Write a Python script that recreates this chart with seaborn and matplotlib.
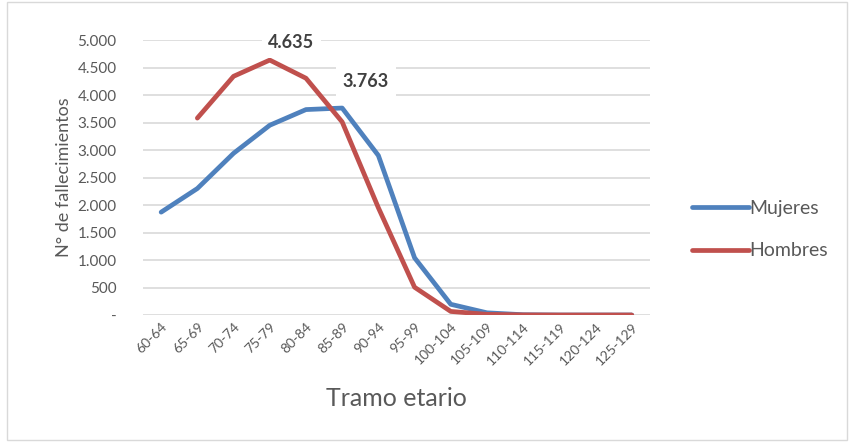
import numpy as np
import pandas as pd
import matplotlib
matplotlib.use("Agg")
import matplotlib.pyplot as plt
from matplotlib.ticker import FuncFormatter
from matplotlib.lines import Line2D
import seaborn as sns

# ─── Data ─────────────────────────────────────────────────────────────────────
tramos = ["60-64", "65-69", "70-74", "75-79", "80-84", "85-89", "90-94",
          "95-99", "100-104", "105-109", "110-114", "115-119", "120-124", "125-129"]
mujeres = [1870, 2300, 2940, 3450, 3735, 3763, 2900, 1040, 195, 40, 5, 0, 0, 0]
hombres = [np.nan, 3580, 4340, 4635, 4305, 3510, 1950, 505, 65, 12, 2, 0, 0, 0]

df = pd.concat([
    pd.DataFrame({"tramo": tramos, "valor": mujeres, "sexo": "Mujeres"}),
    pd.DataFrame({"tramo": tramos, "valor": hombres, "sexo": "Hombres"}),
]).dropna()

colors = {"Mujeres": "#4F81BD", "Hombres": "#C0504D"}

sns.set_style("white")
plt.rcParams["font.family"] = ["Lato", "DejaVu Sans"]

fig = plt.figure(figsize=(8.54, 4.42), dpi=100)
ax = fig.add_axes([0.1675, 0.2873, 0.5935, 0.6222])

sns.lineplot(data=df, x="tramo", y="valor", hue="sexo", palette=colors,
             linewidth=3.4, sort=False, ax=ax, legend=False,
             solid_capstyle="round", solid_joinstyle="round")

ax.set_xlim(-0.5, len(tramos) - 0.5)
ax.set_ylim(0, 5000)
ax.set_yticks(range(0, 5001, 500))
ax.yaxis.set_major_formatter(FuncFormatter(
    lambda v, p: "-" if v == 0 else f"{int(v):,}".replace(",", ".")))
ax.grid(axis="y", color="#D9D9D9", linewidth=1.2, zorder=0)
ax.set_axisbelow(True)
for s in ax.spines.values():
    s.set_visible(False)
ax.tick_params(axis="both", length=0, colors="#595959")
ax.tick_params(axis="y", pad=19, labelsize=11)
ax.tick_params(axis="x", pad=4)
plt.setp(ax.get_xticklabels(), rotation=45, ha="right", rotation_mode="anchor",
         fontsize=10)

ax.set_xlabel("Tramo etario", fontsize=18, color="#595959", labelpad=14)
ax.set_ylabel("N° de fallecimientos", fontsize=13, color="#595959", labelpad=4)

# peak labels (label position: offset in category units, height in data units)
peaks = [("75-79", 4635, 0.6, 4950), ("85-89", 3763, 0.65, 4240)]
for t, v, dx, ypos in peaks:
    i = tramos.index(t)
    txt = f"{v:,}".replace(",", ".")
    ax.text(i + dx, ypos, txt, ha="center", va="center", fontsize=13,
            fontweight="bold", color="#404040",
            bbox=dict(facecolor="white", edgecolor="none", pad=5), zorder=5)

# legend
handles = [Line2D([], [], color=colors[k], linewidth=3.4, solid_capstyle="round")
           for k in ["Mujeres", "Hombres"]]
fig.legend(handles, ["Mujeres", "Hombres"], loc="center left",
           bbox_to_anchor=(0.79, 0.48), frameon=False, fontsize=14,
           handlelength=2.9, handletextpad=0.05, labelspacing=1.3,
           labelcolor="#595959")

# outer frame
fig.patches.append(plt.Rectangle((0.008, 0.005), 0.984, 0.99, transform=fig.transFigure,
                                 fill=False, edgecolor="#D9D9D9", linewidth=1))

fig.savefig("out.png", dpi=100)
